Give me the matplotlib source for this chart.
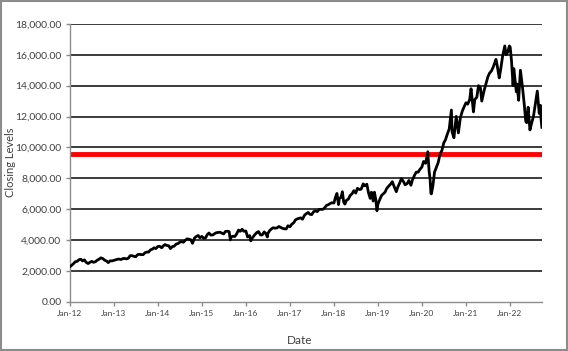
import matplotlib
matplotlib.use("Agg")
import matplotlib.pyplot as plt
import matplotlib.dates as mdates
from matplotlib.ticker import FuncFormatter, FixedLocator
from matplotlib.patches import Rectangle
import pandas as pd

dates = [
 "2012-01-01","2012-01-15","2012-02-01","2012-02-15","2012-03-01","2012-03-15","2012-04-01","2012-04-15",
 "2012-05-01","2012-05-15","2012-06-01","2012-06-15","2012-07-01","2012-07-15","2012-08-01","2012-08-15",
 "2012-09-01","2012-09-15","2012-10-01","2012-10-15","2012-11-01","2012-11-15","2012-12-01","2012-12-15",
 "2013-01-01","2013-01-15","2013-02-01","2013-02-15","2013-03-01","2013-03-15","2013-04-01","2013-04-15",
 "2013-05-01","2013-05-15","2013-06-01","2013-06-15","2013-07-01","2013-07-15","2013-08-01","2013-08-15",
 "2013-09-01","2013-09-15","2013-10-01","2013-10-15","2013-11-01","2013-11-15","2013-12-01","2013-12-15",
 "2014-01-01","2014-01-15","2014-02-01","2014-02-15","2014-03-01","2014-03-15","2014-04-01","2014-04-15",
 "2014-05-01","2014-05-15","2014-06-01","2014-06-15","2014-07-01","2014-07-15","2014-08-01","2014-08-15",
 "2014-09-01","2014-09-15","2014-10-01","2014-10-15","2014-11-01","2014-11-15","2014-12-01","2014-12-15",
 "2015-01-01","2015-01-15","2015-02-01","2015-02-15","2015-03-01","2015-03-15","2015-04-01","2015-04-15",
 "2015-05-01","2015-05-15","2015-06-01","2015-06-15","2015-07-01","2015-07-15","2015-08-01","2015-08-15",
 "2015-08-25","2015-09-01","2015-09-15","2015-10-01","2015-10-15","2015-11-01","2015-11-15","2015-12-01",
 "2015-12-15","2016-01-01","2016-01-15","2016-02-01","2016-02-11","2016-02-15","2016-03-01","2016-03-15",
 "2016-04-01","2016-04-15","2016-05-01","2016-05-15","2016-06-01","2016-06-15","2016-06-27","2016-07-01",
 "2016-07-15","2016-08-01","2016-08-15","2016-09-01","2016-09-15","2016-10-01","2016-10-15","2016-11-01",
 "2016-11-15","2016-12-01","2016-12-15",
 "2017-01-01","2017-01-15","2017-02-01","2017-02-15","2017-03-01","2017-03-15","2017-04-01","2017-04-15",
 "2017-05-01","2017-05-15","2017-06-01","2017-06-15","2017-07-01","2017-07-15","2017-08-01","2017-08-15",
 "2017-09-01","2017-09-15","2017-10-01","2017-10-15","2017-11-01","2017-11-15","2017-12-01","2017-12-15",
 "2018-01-01","2018-01-15","2018-01-26","2018-02-08","2018-02-15","2018-03-01","2018-03-12","2018-03-23",
 "2018-04-02","2018-04-15","2018-05-01","2018-05-15","2018-06-01","2018-06-15","2018-07-01","2018-07-15",
 "2018-08-01","2018-08-15","2018-09-01","2018-09-15","2018-10-01","2018-10-15","2018-10-29","2018-11-08",
 "2018-11-23","2018-12-03","2018-12-15","2018-12-24",
 "2019-01-01","2019-01-15","2019-02-01","2019-02-15","2019-03-01","2019-03-15","2019-04-01","2019-04-15",
 "2019-05-01","2019-05-15","2019-06-03","2019-06-15","2019-07-01","2019-07-15","2019-08-01","2019-08-15",
 "2019-09-01","2019-09-15","2019-10-02","2019-10-15","2019-11-01","2019-11-15","2019-12-01","2019-12-15",
 "2020-01-01","2020-01-15","2020-02-01","2020-02-19","2020-03-01","2020-03-09","2020-03-16","2020-03-20",
 "2020-04-01","2020-04-15","2020-05-01","2020-05-15","2020-06-01","2020-06-15","2020-07-01","2020-07-15",
 "2020-08-01","2020-08-15","2020-09-02","2020-09-08","2020-09-23","2020-10-12","2020-10-30","2020-11-15",
 "2020-12-01","2020-12-15",
 "2021-01-01","2021-01-15","2021-02-01","2021-02-12","2021-03-04","2021-03-15","2021-04-01","2021-04-15",
 "2021-05-01","2021-05-12","2021-06-01","2021-06-15","2021-07-01","2021-07-15","2021-08-01","2021-08-15",
 "2021-09-07","2021-09-15","2021-10-04","2021-10-15","2021-11-01","2021-11-19","2021-12-01","2021-12-15",
 "2021-12-27",
 "2022-01-03","2022-01-14","2022-01-27","2022-02-02","2022-02-23","2022-03-01","2022-03-14","2022-03-29",
 "2022-04-15","2022-04-29","2022-05-12","2022-05-20","2022-06-01","2022-06-16","2022-07-01","2022-07-15",
 "2022-08-01","2022-08-16","2022-09-01","2022-09-12","2022-09-16","2022-09-23",
]

closing = [
 2280,2360,2480,2600,2620,2720,2760,2650,2720,2560,2480,2560,2620,2560,2600,2700,
 2770,2850,2800,2700,2640,2540,2660,2650,
 2690,2720,2760,2770,2740,2800,2810,2780,2830,2990,2990,2950,2920,3050,3080,3060,
 3060,3180,3230,3220,3370,3410,3500,3450,
 3590,3600,3500,3630,3710,3650,3630,3450,3580,3600,3740,3770,3860,3900,3860,3990,
 4080,4050,4020,3790,4140,4230,4300,4150,
 4240,4120,4150,4360,4460,4330,4330,4410,4480,4490,4510,4450,4400,4560,4570,4550,
 4010,4200,4250,4230,4380,4650,4570,4700,
 4570,4590,4200,4290,3950,4050,4200,4350,4490,4550,4340,4330,4530,4420,4200,4420,
 4600,4730,4800,4770,4790,4880,4820,4760,
 4730,4720,4930,
 4860,5020,5120,5300,5370,5400,5440,5350,5600,5700,5790,5670,5650,5830,5900,5840,
 5990,5990,5990,6080,6250,6290,6370,6420,
 6400,6800,7020,6300,6700,6770,7130,6460,6330,6580,6650,6880,7010,7200,7040,7350,
 7270,7300,7640,7510,7620,7060,6700,7100,
 6530,7100,6600,5900,
 6330,6600,6900,7000,7100,7340,7500,7610,7780,7480,7130,7430,7700,7980,7790,7580,
 7660,7860,7550,7900,8200,8400,8400,8570,
 8730,9090,8970,9720,8460,7950,7020,6990,7490,8400,8720,9010,9600,9800,10300,10500,
 10900,11200,12420,11000,10630,12010,10940,11900,
 12340,12600,
 12890,12800,13100,13800,12300,13100,13250,14000,13860,13000,13700,14100,14550,14800,14960,15200,
 15700,15400,14500,15000,15900,16570,16000,16200,
 16570,
 16500,15600,14000,15100,13600,14100,13050,15000,13900,12850,11700,11600,12600,11130,11600,12000,
 12900,13650,12200,12720,11850,11300,
]

reference_level = 9600
y_ticks = [0, 2000, 4000, 6000, 8000, 10000, 12000, 14000, 16000, 18000]
x_tick_labels = ["Jan-12","Jan-13","Jan-14","Jan-15","Jan-16","Jan-17","Jan-18","Jan-19","Jan-20","Jan-21","Jan-22"]

font = ["Lato", "DejaVu Sans"]
plt.rcParams["font.family"] = font

d = pd.to_datetime(dates)
fig = plt.figure(figsize=(5.68, 3.51), dpi=100)
ax = fig.add_axes([0.123, 0.140, 0.831, 0.792])

for yv in y_ticks[1:]:
    ax.axhline(yv, color="#1a1a1a", lw=1.2, zorder=1)
ax.axhline(reference_level, color="#ff0000", lw=3.5, zorder=2)
ax.plot(d, closing, color="black", lw=2.0, zorder=3)

ax.set_ylim(0, 18000)
ax.set_xlim(pd.Timestamp("2012-01-01"), pd.Timestamp("2022-09-23"))
ax.yaxis.set_major_locator(FixedLocator(y_ticks))
ax.yaxis.set_major_formatter(FuncFormatter(lambda v, p: f"{v:,.2f}"))
xt = [mdates.date2num(pd.Timestamp(f"20{s[-2:]}-01-01")) for s in x_tick_labels]
ax.set_xticks(xt)
ax.set_xticklabels(x_tick_labels)

for s in ["top", "right"]:
    ax.spines[s].set_visible(False)
for s in ["left", "bottom"]:
    ax.spines[s].set_color("#8c8c8c")
    ax.spines[s].set_linewidth(1.0)
ax.tick_params(axis="both", colors="#8c8c8c", length=3, width=1.0, direction="out")
ax.tick_params(axis="y", labelsize=7.5, labelcolor="#404040", pad=3)
ax.tick_params(axis="x", labelsize=6, labelcolor="#404040", pad=3)

fig.text(11 / 568, 1 - 162 / 351, "Closing Levels", rotation=90, fontsize=8,
         color="#404040", ha="center", va="center")
fig.text(300 / 568, 1 - 341 / 351, "Date", fontsize=8.5, color="#404040",
         ha="center", va="center")

fig.patches.append(Rectangle((0.002, 0.003), 0.996, 0.994, transform=fig.transFigure,
                             fill=False, edgecolor="#8c8c8c", lw=1.5))

fig.savefig("out.png", dpi=100)
